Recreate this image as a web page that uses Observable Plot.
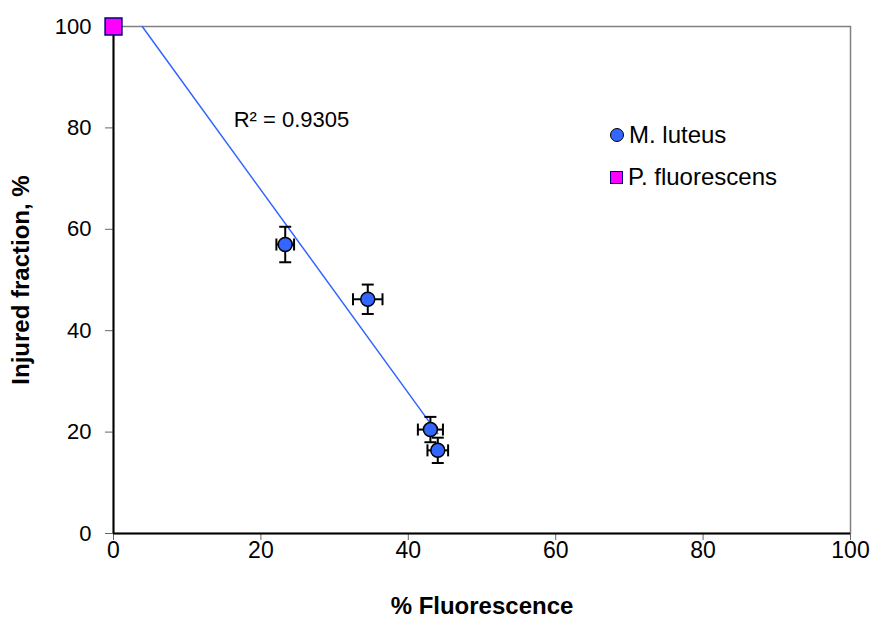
<!DOCTYPE html>
<html>
<head>
<meta charset="utf-8">
<script src="https://cdn.jsdelivr.net/npm/d3@7"></script>
<script src="https://cdn.jsdelivr.net/npm/@observablehq/plot@0.6"></script>
<style>
  html, body { margin: 0; padding: 0; background: #fff; }
  #wrap { position: relative; width: 875px; height: 626px; font-family: "Liberation Sans", Arial, sans-serif; }
  #legend { position: absolute; left: 610px; top: 114px; font-size: 24px; color: #000; }
  .row { display: flex; align-items: center; height: 42px; }
  .sym { width: 14px; height: 14px; margin-right: 5px; box-sizing: border-box; }
</style>
</head>
<body>
<div id="wrap"><div id="legend"></div></div>
<script>
// M. luteus data
const luteusX = [23.3, 34.5, 43.0, 44.0];
const luteusY = [57.0, 46.2, 20.5, 16.4];
const luteusXErr = [1.2, 2.0, 1.7, 1.4];
const luteusYErr = [3.5, 2.9, 2.5, 2.5];
// P. fluorescens
const fluorX = [0];
const fluorY = [100];
// Trendline (linear)
const trendX = [3.9, 44.0];
const trendY = [100, 19.7];
const r2Label = "R² = 0.9305";
const r2X = [16.3];
const r2Y = [81.5];
const xTicks = [0, 20, 40, 60, 80, 100];
const yTicks = [0, 20, 40, 60, 80, 100];
const seriesNames = ["M. luteus", "P. fluorescens"];

const blue = "#3366ff";
const luteus = luteusX.map((x, i) => ({x, y: luteusY[i], ex: luteusXErr[i], ey: luteusYErr[i]}));
const fluor = fluorX.map((x, i) => ({x, y: fluorY[i]}));
const trend = trendX.map((x, i) => ({x, y: trendY[i]}));

const hline = {draw(ctx, size) { const r = Math.sqrt(size / Math.PI); ctx.moveTo(-r, 0); ctx.lineTo(r, 0); }};
const vline = {draw(ctx, size) { const r = Math.sqrt(size / Math.PI); ctx.moveTo(0, -r); ctx.lineTo(0, r); }};

const font = "Liberation Sans, Arial, sans-serif";

const chart = Plot.plot({
  width: 875,
  height: 626,
  marginLeft: 113,
  marginRight: 25,
  marginTop: 26,
  marginBottom: 93,
  style: {fontFamily: font, fontSize: "21px", color: "#000", background: "#fff"},
  x: {domain: [0, 100]},
  y: {domain: [0, 100]},
  marks: [
    Plot.frame({stroke: "#808080", strokeWidth: 1.5}),
    Plot.axisY({ticks: yTicks, tickSize: 8, tickPadding: 14, stroke: "#666", label: null, fontSize: 22}),
    Plot.axisX({ticks: xTicks, tickSize: 7, tickPadding: 1, stroke: "#666", label: null, fontSize: 23}),
    Plot.ruleX([0], {stroke: "#000", strokeWidth: 2}),
    Plot.ruleY([0], {stroke: "#000", strokeWidth: 2}),
    Plot.line(trend, {x: "x", y: "y", stroke: blue, strokeWidth: 1.5}),
    // error bars
    Plot.link(luteus, {x1: d => d.x - d.ex, x2: d => d.x + d.ex, y1: "y", y2: "y", stroke: "#000", strokeWidth: 2}),
    Plot.link(luteus, {x1: "x", x2: "x", y1: d => d.y - d.ey, y2: d => d.y + d.ey, stroke: "#000", strokeWidth: 2}),
    Plot.dot(luteus, {x: d => d.x - d.ex, y: "y", symbol: vline, r: 6, stroke: "#000", strokeWidth: 2, fill: "none"}),
    Plot.dot(luteus, {x: d => d.x + d.ex, y: "y", symbol: vline, r: 6, stroke: "#000", strokeWidth: 2, fill: "none"}),
    Plot.dot(luteus, {x: "x", y: d => d.y - d.ey, symbol: hline, r: 6, stroke: "#000", strokeWidth: 2, fill: "none"}),
    Plot.dot(luteus, {x: "x", y: d => d.y + d.ey, symbol: hline, r: 6, stroke: "#000", strokeWidth: 2, fill: "none"}),
    Plot.dot(luteus, {x: "x", y: "y", r: 7, fill: blue, stroke: "#000", strokeWidth: 1.5}),
    Plot.dot(fluor, {x: "x", y: "y", symbol: "square", r: 9.5, fill: "#ff00ff", stroke: "#000080", strokeWidth: 1.5}),
    Plot.text([r2Label], {x: r2X, y: r2Y, textAnchor: "start", fontSize: 22, fill: "#000"}),
    Plot.text(["Injured fraction, %"], {frameAnchor: "left", textAnchor: "middle", dx: -92, rotate: -90, fontWeight: "bold", fontSize: 24, fill: "#000"}),
    Plot.text(["% Fluorescence"], {frameAnchor: "bottom", textAnchor: "middle", dy: 80, fontWeight: "bold", fontSize: 24, fill: "#000"})
  ]
});
document.getElementById("wrap").prepend(chart);

const legend = document.getElementById("legend");
const syms = [
  `<div class="sym" style="border-radius:50%;background:${blue};border:1.5px solid #000"></div>`,
  `<div class="sym" style="width:13px;height:13px;background:#ff00ff;border:1.5px solid #000080"></div>`
];
seriesNames.forEach((n, i) => {
  const row = document.createElement("div");
  row.className = "row";
  row.innerHTML = syms[i] + `<span>${n}</span>`;
  legend.appendChild(row);
});
</script>
</body>
</html>
